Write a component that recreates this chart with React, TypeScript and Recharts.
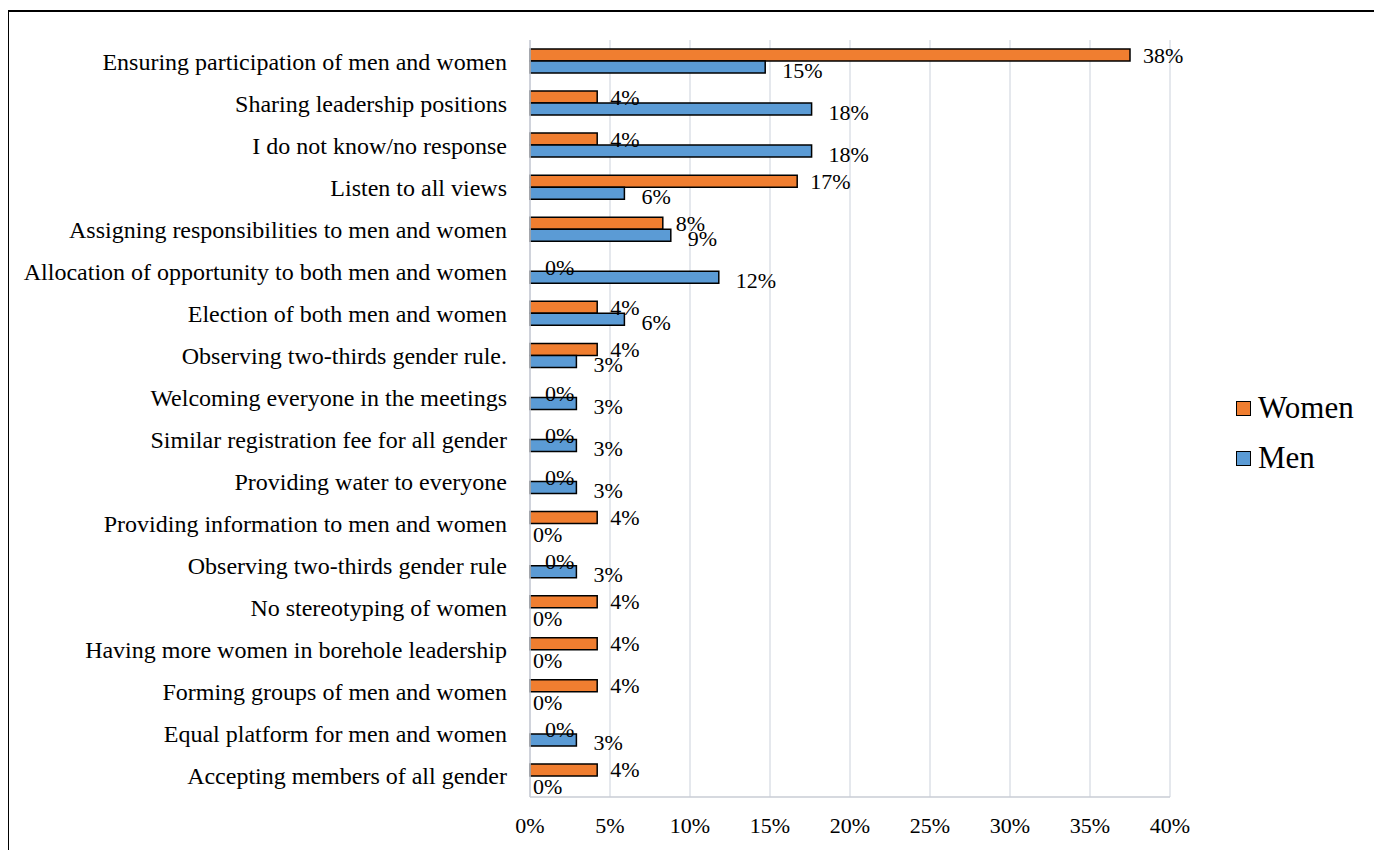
import { BarChart, Bar, XAxis, YAxis, CartesianGrid, LabelList } from "recharts";

const categories = [
  "Ensuring participation of men and women",
  "Sharing leadership positions",
  "I do not know/no response",
  "Listen to all views",
  "Assigning responsibilities to men and women",
  "Allocation of opportunity to both men and women",
  "Election of both men and women",
  "Observing two-thirds gender rule.",
  "Welcoming everyone in the meetings",
  "Similar registration fee for all gender",
  "Providing water to everyone",
  "Providing information to men and women",
  "Observing two-thirds gender rule",
  "No stereotyping of women",
  "Having more women in borehole leadership",
  "Forming groups of men and women",
  "Equal platform for men and women",
  "Accepting members of all gender",
];

const women = [37.5, 4.2, 4.2, 16.7, 8.3, 0, 4.2, 4.2, 0, 0, 0, 4.2, 0, 4.2, 4.2, 4.2, 0, 4.2];
const men = [14.7, 17.6, 17.6, 5.9, 8.8, 11.8, 5.9, 2.9, 2.9, 2.9, 2.9, 0, 2.9, 0, 0, 0, 2.9, 0];

const xTicks = [0, 5, 10, 15, 20, 25, 30, 35, 40];

const data = categories.map((name, i) => ({ name, women: women[i], men: men[i] }));

const FONT = "'Liberation Serif', 'Times New Roman', serif";
const ORANGE = "#F07E30";
const BLUE = "#5B9BD5";
const BAR = 12;

const pct = (v: number) => `${Math.round(v)}%`;

const Txt = ({ x, y, children }: any) => (
  <text x={x} y={y} fontSize={22} fontFamily={FONT} fill="#000" dominantBaseline="central" textAnchor="start">
    {children}
  </text>
);

// the label value is the whole row, so each label knows its sibling's value
const rowOf = (entry: any) => entry.payload;

// labels sit just right of the bar end, like Excel's "outside end".
// zero-length bars get no label from recharts, so the sibling bar draws it
const womenLabel = (props: any) => {
  const { x, y, width, height, value } = props;
  if (!value) return null;
  return (
    <g>
      <Txt x={x + width + 13} y={y + height / 2}>{pct(value.women)}</Txt>
      {value.men === 0 && <Txt x={x + 3} y={y + height + BAR / 2 + 5}>{pct(0)}</Txt>}
    </g>
  );
};

const menLabel = (props: any) => {
  const { x, y, width, height, value } = props;
  if (!value) return null;
  return (
    <g>
      <Txt x={x + width + 17} y={y + height / 2 + 3}>{pct(value.men)}</Txt>
      {value.women === 0 && <Txt x={x + 15} y={y - BAR / 2 + 2}>{pct(0)}</Txt>}
    </g>
  );
};

export default function App() {
  return (
    <div style={{ position: "relative", width: 1374, height: 842, fontFamily: FONT }}>
      <style>{"body{overflow:hidden}"}</style>
      {/* outer frame, only top and left edges fall inside the window */}
      <div style={{
        position: "absolute", left: -1, top: 2, width: 1380, height: 850,
        borderTop: "2px solid #000", borderLeft: "2px solid #000",
      }} />

      <div style={{ position: "absolute", left: 0, top: 0 }}>
        <BarChart
          width={1370}
          height={840}
          data={data}
          layout="vertical"
          margin={{ top: 32, right: 208, bottom: 11, left: 0 }}
          barSize={BAR}
          barGap={0}
        >
          <CartesianGrid horizontal={false} stroke="#dde0e7" strokeWidth={1.5} />
          <XAxis
            type="number"
            domain={[0, 40]}
            ticks={xTicks}
            tickFormatter={(v: number) => `${v}%`}
            tick={{ fill: "#000", fontSize: 22, fontFamily: FONT }}
            axisLine={{ stroke: "#c8ccd4", strokeWidth: 1.5 }}
            tickLine={false}
            tickSize={0}
            tickMargin={20}
            height={40}
          />
          <YAxis
            type="category"
            dataKey="name"
            width={522}
            interval={0}
            tick={{ fill: "#000", fontSize: 24, fontFamily: FONT }}
            axisLine={{ stroke: "#c8ccd4", strokeWidth: 1.5 }}
            tickLine={false}
            tickSize={0}
            tickMargin={23}
          />
          <Bar dataKey="women" fill={ORANGE} stroke="#000" strokeWidth={1.5} isAnimationActive={false}>
            <LabelList valueAccessor={rowOf} content={womenLabel} />
          </Bar>
          <Bar dataKey="men" fill={BLUE} stroke="#000" strokeWidth={1.5} isAnimationActive={false}>
            <LabelList valueAccessor={rowOf} content={menLabel} />
          </Bar>
        </BarChart>
      </div>

      {/* legend */}
      <div style={{ position: "absolute", left: 1228, top: 382 }}>
        {[
          { label: "Women", color: ORANGE },
          { label: "Men", color: BLUE },
        ].map(s => (
          <div key={s.label} style={{ display: "flex", alignItems: "center", height: 36, marginBottom: 14 }}>
            <div style={{
              width: 13, height: 13, backgroundColor: s.color,
              border: "1.5px solid #000", marginRight: 7,
            }} />
            <span style={{ fontSize: 31, lineHeight: "36px", color: "#000" }}>{s.label}</span>
          </div>
        ))}
      </div>
    </div>
  );
}
